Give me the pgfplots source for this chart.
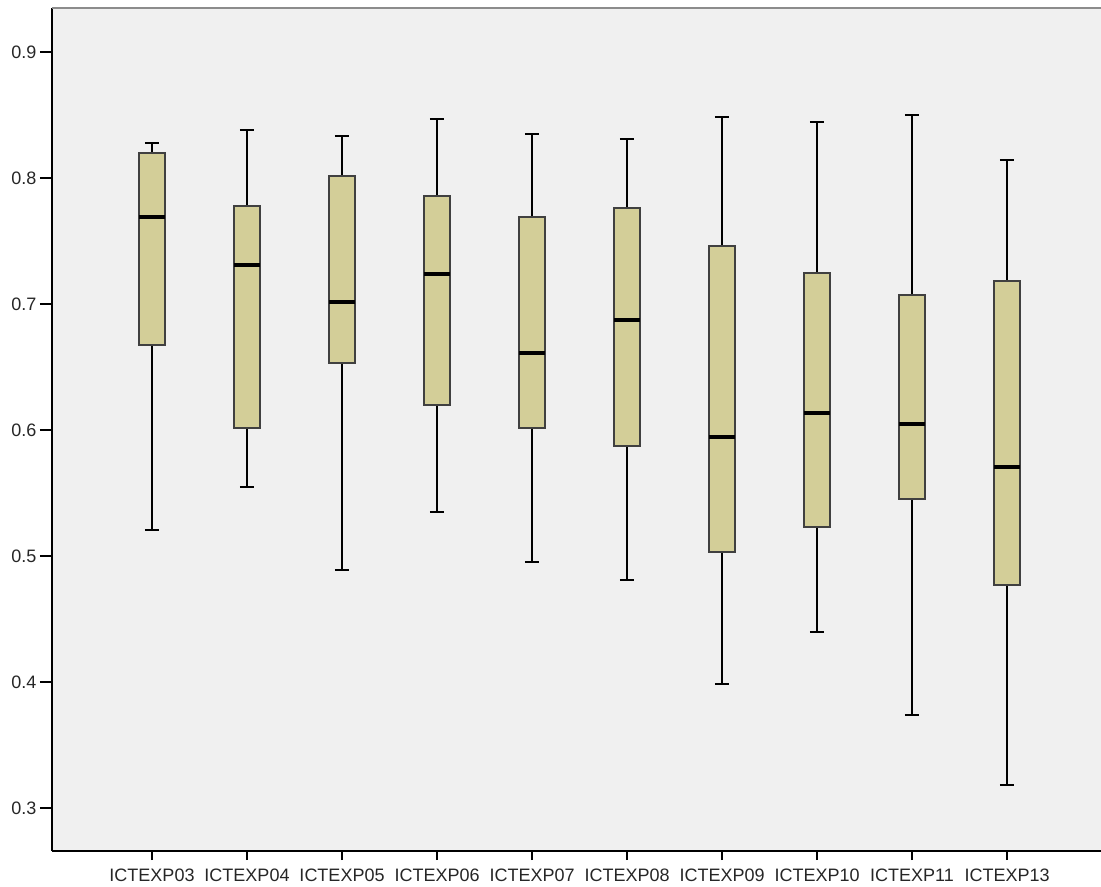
\documentclass[border=0pt]{standalone}
\usepackage{fontspec}
\setmainfont{Liberation Sans}
\usepackage{pgfplots}
\pgfplotsset{compat=1.18}
\usepgfplotslibrary{statistics}
\definecolor{bg}{HTML}{F0F0F0}
\definecolor{boxfill}{HTML}{D3CE98}
\definecolor{topline}{HTML}{8C8C8C}
\begin{document}
\begin{tikzpicture}
\begin{axis}[
  scale only axis,
  width=524.5pt, height=421.5pt,
  xmin=-1.0526, xmax=9.989,
  ymin=0.2659, ymax=0.9349,
  axis lines*=left,
  axis line style={black, line width=0.8pt},
  axis background/.style={fill=bg},
  tick align=outside,
  xtick={0,...,9},
  xticklabels={ICTEXP03,ICTEXP04,ICTEXP05,ICTEXP06,ICTEXP07,ICTEXP08,ICTEXP09,ICTEXP10,ICTEXP11,ICTEXP13},
  ytick={0.3,0.4,0.5,0.6,0.7,0.8,0.9},
  xtick style={black, line width=0.8pt, /pgfplots/major tick length=4.5pt},
  ytick style={black, line width=0.8pt, /pgfplots/major tick length=6pt},
  /pgf/number format/assume math mode=true,
  yticklabel style={/pgf/number format/fixed, /pgf/number format/precision=1, /pgf/number format/fixed zerofill},
  ticklabel style={font=\fontsize{9}{10}\selectfont, text=black!85},
  xticklabel style={yshift=-1pt},
  boxplot/draw direction=y,
  boxplot/box extend=0.27,
  boxplot/whisker extend=0.15,
  boxplot/every box/.style={fill=boxfill, draw=black!75, line width=0.8pt},
  boxplot/every median/.style={black, line width=1.6pt},
  boxplot/every whisker/.style={black, line width=1pt},
  clip=false,
]
\coordinate (SW) at (rel axis cs:0,0);
\coordinate (NE) at (rel axis cs:1,1);
\draw[topline, line width=1.2pt] (rel axis cs:0,1) -- (rel axis cs:1,1);
\addplot[boxplot prepared={draw position=0, lower whisker=0.5206, lower quartile=0.6675, median=0.769, upper quartile=0.8198, upper whisker=0.8278}] coordinates {};
\addplot[boxplot prepared={draw position=1, lower whisker=0.5548, lower quartile=0.6016, median=0.731, upper quartile=0.7778, upper whisker=0.838}] coordinates {};
\addplot[boxplot prepared={draw position=2, lower whisker=0.489, lower quartile=0.653, median=0.7016, upper quartile=0.8016, upper whisker=0.8333}] coordinates {};
\addplot[boxplot prepared={draw position=3, lower whisker=0.5349, lower quartile=0.6198, median=0.7238, upper quartile=0.7857, upper whisker=0.8468}] coordinates {};
\addplot[boxplot prepared={draw position=4, lower whisker=0.4952, lower quartile=0.6016, median=0.6611, upper quartile=0.769, upper whisker=0.8349}] coordinates {};
\addplot[boxplot prepared={draw position=5, lower whisker=0.481, lower quartile=0.5873, median=0.6873, upper quartile=0.7762, upper whisker=0.831}] coordinates {};
\addplot[boxplot prepared={draw position=6, lower whisker=0.3984, lower quartile=0.5032, median=0.5944, upper quartile=0.746, upper whisker=0.8484}] coordinates {};
\addplot[boxplot prepared={draw position=7, lower whisker=0.4397, lower quartile=0.523, median=0.6135, upper quartile=0.7246, upper whisker=0.8444}] coordinates {};
\addplot[boxplot prepared={draw position=8, lower whisker=0.3738, lower quartile=0.5452, median=0.6048, upper quartile=0.7071, upper whisker=0.85}] coordinates {};
\addplot[boxplot prepared={draw position=9, lower whisker=0.3183, lower quartile=0.477, median=0.5706, upper quartile=0.7183, upper whisker=0.8143}] coordinates {};
\end{axis}
\pgfresetboundingbox
\path ([shift={(-26pt,-17.5pt)}]SW) rectangle ([shift={(0pt,4pt)}]NE);
\end{tikzpicture}
\end{document}
